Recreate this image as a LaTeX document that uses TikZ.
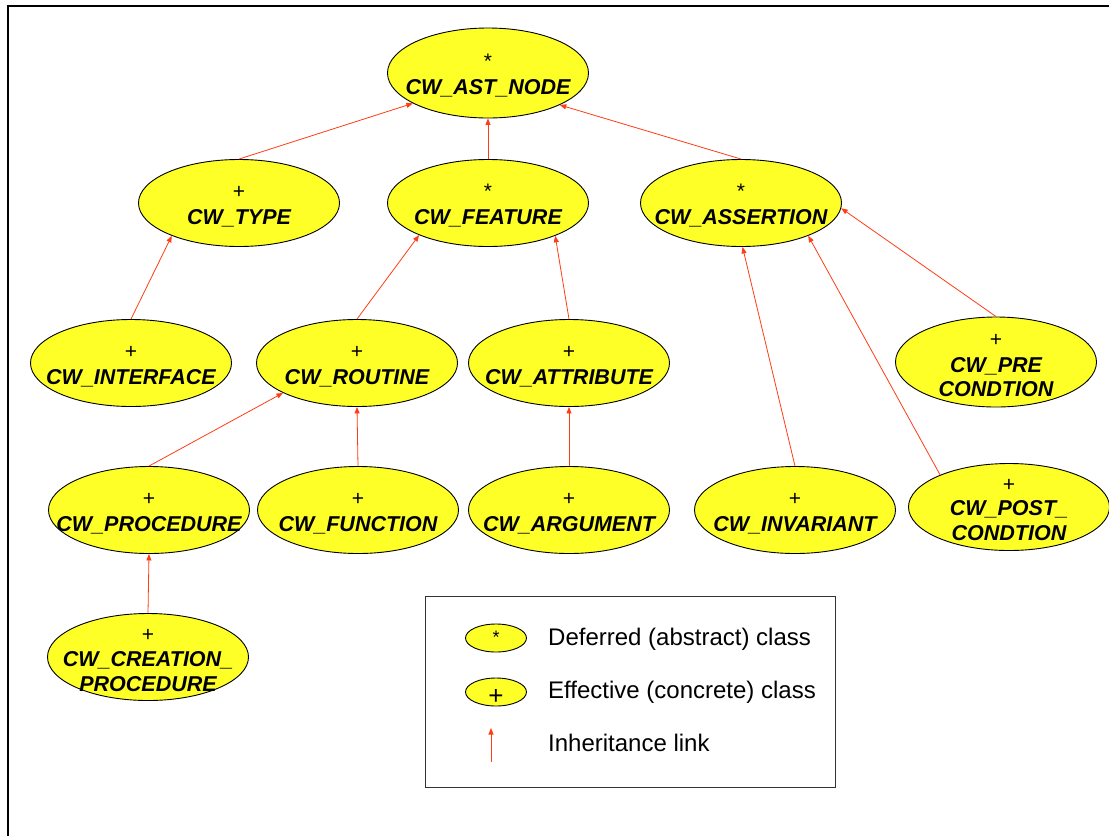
\documentclass[tikz,border=0pt]{standalone}
\usepackage{fontspec}
\setmainfont{Liberation Sans}
\usetikzlibrary{shapes.geometric,arrows.meta}
\definecolor{clsfill}{RGB}{255,255,40}
\definecolor{linkred}{RGB}{255,60,20}
\begin{document}
\begin{tikzpicture}[x=1pt,y=-1pt,
  cls/.style={ellipse,draw=black,line width=0.9pt,fill=clsfill,
    minimum width=201,minimum height=87,inner sep=0pt},
  nm/.style={anchor=base,inner sep=0pt,
    font=\fontsize{21.5}{25}\selectfont\bfseries\itshape},
  sg/.style={anchor=base,inner sep=0pt,font=\fontsize{21}{24}\selectfont},
  link/.style={draw=linkred,line width=0.8pt,
    -{Triangle[length=6.5pt,width=5pt]}},
  legtext/.style={anchor=base west,inner sep=0pt,
    font=\fontsize{24}{28}\selectfont}]
\useasboundingbox (0,0) rectangle (1109,836);

% page frame (top and left edges only)
\draw[line width=2.3pt] (8,836) -- (8,6) -- (1109,6);

% class ellipses
\node[cls,minimum height=90] (ast) at (488,73) {};
\node[cls] (type)      at (239,203) {};
\node[cls] (feature)   at (488,203) {};
\node[cls] (assertion) at (741,203) {};
\node[cls] (interface) at (131,363) {};
\node[cls] (routine)   at (357,363) {};
\node[cls] (attribute) at (569,363) {};
\node[cls,minimum height=90] (pre) at (996,362) {};
\node[cls] (procedure) at (149,510) {};
\node[cls] (function)  at (358,510) {};
\node[cls] (argument)  at (569,510) {};
\node[cls] (invariant) at (795,510) {};
\node[cls] (post)      at (1009,507) {};
\node[cls] (creation)  at (148,657) {};

% class markers and names
\node[sg] (ast-s) at (488,68) {*};
\node[nm] (ast-n) at (488,94) {CW\_AST\_NODE};
\node[sg] (type-s) at (239,198) {+};
\node[nm] (type-n) at (239,224) {CW\_TYPE};
\node[sg] (feature-s) at (488,198) {*};
\node[nm] (feature-n) at (488,224) {CW\_FEATURE};
\node[sg] (assertion-s) at (741,198) {*};
\node[nm] (assertion-n) at (741,224) {CW\_ASSERTION};
\node[sg] (interface-s) at (131,358) {+};
\node[nm] (interface-n) at (131,384) {CW\_INTERFACE};
\node[sg] (routine-s) at (357,358) {+};
\node[nm] (routine-n) at (357,384) {CW\_ROUTINE};
\node[sg] (attribute-s) at (569,358) {+};
\node[nm] (attribute-n) at (569,384) {CW\_ATTRIBUTE};
\node[sg] (pre-s)  at (996,346) {+};
\node[nm] (pre-n1) at (996,372) {CW\_PRE};
\node[nm] (pre-n2) at (996,396) {CONDTION};
\node[sg] (procedure-s) at (149,505) {+};
\node[nm] (procedure-n) at (149,531) {CW\_PROCEDURE};
\node[sg] (function-s) at (358,505) {+};
\node[nm] (function-n) at (358,531) {CW\_FUNCTION};
\node[sg] (argument-s) at (569,505) {+};
\node[nm] (argument-n) at (569,531) {CW\_ARGUMENT};
\node[sg] (invariant-s) at (795,505) {+};
\node[nm] (invariant-n) at (795,531) {CW\_INVARIANT};
\node[sg] (post-s)  at (1009,491) {+};
\node[nm] (post-n1) at (1009,515) {CW\_POST\_};
\node[nm] (post-n2) at (1009,540) {CONDTION};
\node[sg] (creation-s)  at (148,641) {+};
\node[nm] (creation-n1) at (148,666) {CW\_CREATION\_};
\node[nm] (creation-n2) at (148,691) {PROCEDURE};

% inheritance links (child -> parent)
\draw[link] (type.north)      -- (ast.202.5);
\draw[link] (feature.north)   -- (ast.south);
\draw[link] (assertion.north) -- (ast.336.6);
\draw[link] (interface.north) -- (type.206.2);
\draw[link] (routine.north)   -- (feature.205.9);
\draw[link] (attribute.north) -- (feature.334);
\draw[link] (invariant.north) -- (assertion.272);
\draw[link] (post.155.7)      -- (assertion.334.7);
\draw[link] (pre.north)       -- (assertion.357);
\draw[link] (procedure.north) -- (routine.202.3);
\draw[link] (function.north)  -- (routine.south);
\draw[link] (argument.north)  -- (attribute.south);
\draw[link] (creation.north)  -- (procedure.south);

% legend
\node[draw=black!80,line width=0.9pt,minimum width=410,minimum height=191,
  inner sep=0pt] (legend) at (630,691.5) {};
\node[cls,minimum width=61,minimum height=28] (leg-def) at (496,638) {};
\node[anchor=base,inner sep=0pt,font=\fontsize{18}{20}\selectfont]
  (leg-def-s) at (496,643) {*};
\node[cls,minimum width=61,minimum height=28] (leg-eff) at (496,692) {};
\node[anchor=base,inner sep=0pt,font=\fontsize{26}{30}\selectfont]
  (leg-eff-s) at (496,704) {+};
\coordinate (leg-lk-a) at (491,762);
\coordinate (leg-lk-b) at (491,728);
\draw[link] (leg-lk-a) -- (leg-lk-b);
\node[legtext] (leg-t1) at (548,645) {Deferred (abstract) class};
\node[legtext] (leg-t2) at (548,698) {Effective (concrete) class};
\node[legtext] (leg-t3) at (548,751) {Inheritance link};
\end{tikzpicture}
\end{document}
